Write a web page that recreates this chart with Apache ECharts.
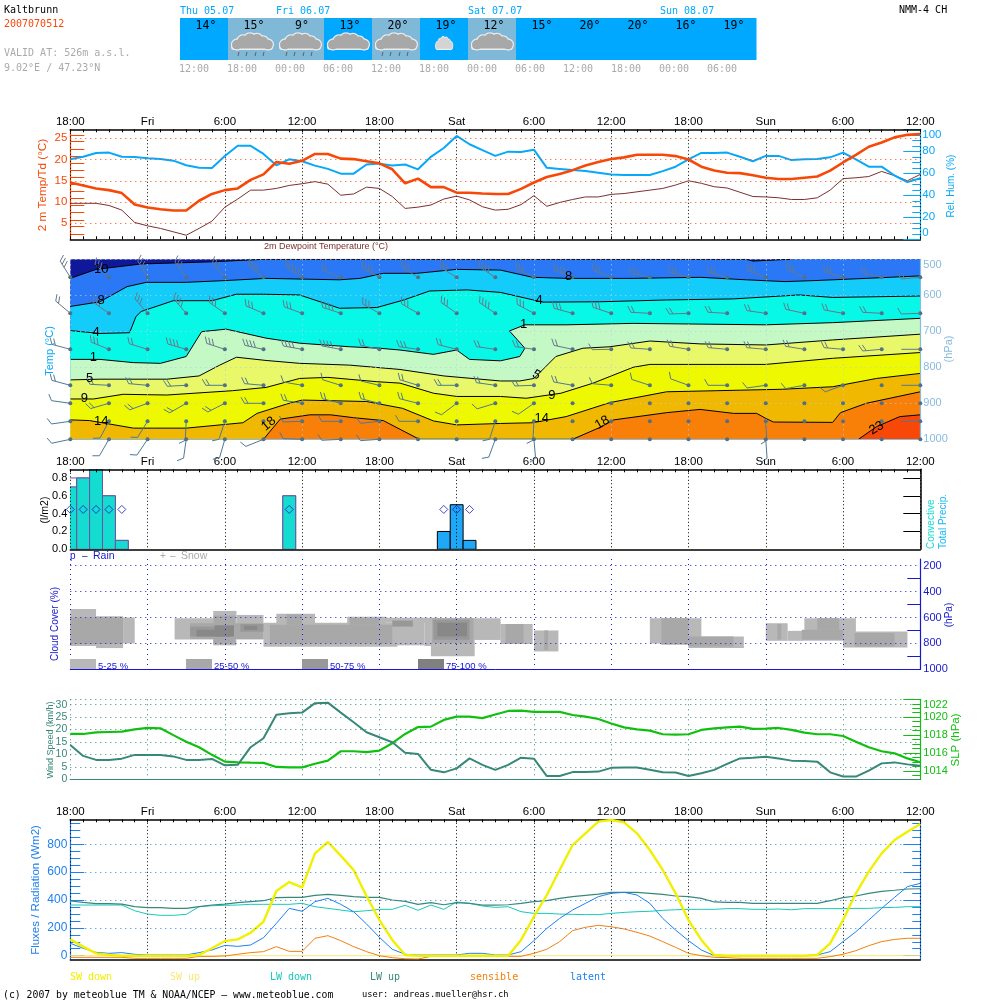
<!DOCTYPE html>
<html><head><meta charset="utf-8">
<script src="https://cdn.jsdelivr.net/npm/echarts@6/dist/echarts.min.js"></script>
<style>html,body{margin:0;padding:0;background:#fff}#c{width:1000px;height:1000px}</style></head>
<body><div id="c"></div>
<script>
const timeLabels=['18:00','Fri','6:00','12:00','18:00','Sat','6:00','12:00','18:00','Sun','6:00','12:00'];
const temp2m=[14.6,13.9,13.2,12.8,12.1,9.4,8.7,8.3,8,8,10.3,11.9,12.8,13.2,15.2,16.5,19.4,19,19.7,21.3,21.3,20.2,20.1,19.6,19.1,17.7,14.4,15.5,13.5,13.5,12.2,12.2,12,11.9,11.9,13.1,14.6,15.9,16.6,17.5,18.6,19.4,20.1,20.5,21.1,21.1,21.1,20.8,20,18.3,17.4,16.9,16.8,16.3,15.7,15.4,15.4,15.7,16,17.4,19.3,21.1,23,24,25.2,25.8,26];
const dewPoint=[9.7,9.7,9.7,9.2,8.1,5.2,4.4,3.8,3,2.2,3.8,5.5,8.8,10.7,12.8,12.8,13.2,13.9,14.3,14.8,14.2,11.6,11.9,13.5,13.2,11.3,8.5,8.8,9.3,10.7,11.4,10.5,8.9,8.1,8.3,9.4,11.5,9,9.9,10.6,11.2,11.2,11.8,12,12.4,12.8,13.2,14,15,14.4,13.6,13.3,12.3,11.3,11.2,11,10.6,10.6,11,12.8,15.5,15.7,16,17.2,16.2,15,16.5];
const relHum=[72.7,75,78.5,78.8,75,74.8,73.6,73,71.5,67.3,65,64.8,75.8,85,85,77.6,67.3,72.7,71,67,64,59.7,59.7,68,68.8,67,68,63.6,75,83,94,86.4,81,75.8,79.7,79.4,81.5,65,64,63,62,60.6,59,58.5,58.5,58.5,62,66,72.7,78.5,78.5,78.8,75,71,75.8,75.8,72,72.7,73,74.5,78.8,72.7,66,66,58,52,55.5];
const tempLabels=[5,10,15,20,25];
const tempMinor=[2.5,4.2,5.8,7.5,9.2,10.8,12.5,14.2,15.8,17.5,19.2,20.8,22.5,24.2,25.8];

const contourM10=[[0,553],[2,528],[5.5,513],[11,507],[15,500],[52.5,500],[53,505],[55.2,501],[56,500],[66,500]];
const contourM8=[[0,631],[2.3,618],[4.4,576],[5.9,564],[9,564],[12.1,559],[15.2,553],[20.9,557],[22.5,553],[24.3,539],[26.9,539],[30,528],[33.4,530],[35.9,550],[38.5,553],[43.7,553],[48.9,550],[52.5,557],[55.5,562],[57.9,559],[61.8,553],[66,546]];
const contourM4=[[0,698],[2.3,706],[4.6,704],[5.1,659],[5.5,645],[8,615],[11,615],[12.9,597],[15,597],[17.8,599],[20.9,636],[23.8,634],[25.9,613],[27.9,588],[30.8,585],[33.4,592],[36.7,619],[41.1,618],[46.3,613],[51.5,610],[56.6,599],[59.2,606],[66,602]];
const contourP1=[[0,778],[2.3,778],[4.9,787],[7,789],[9,770],[9.8,724],[10.2,701],[12.1,694],[15.2,719],[17.8,733],[21.7,743],[24,747],[25.6,752],[28.2,764],[30,752],[31,778],[33.4,782],[34.9,770],[35.3,747],[34.1,699],[35.3,682],[38.5,682],[43.7,678],[48.9,680],[54,682],[59.2,676],[66,664]];
const contourP5=[[0,835],[2.3,833],[7.5,833],[10,824],[11.6,794],[12.9,772],[15.2,781],[17.8,789],[21.7,794],[25.6,806],[29,824],[33.4,838],[34.9,838],[36,831],[37.7,770],[39.8,747],[41.9,743],[45,727],[48.9,735],[54,738],[59.2,724],[66,708]];
const contourP9=[[0,888],[1.8,888],[4.1,875],[7.5,877],[12.6,865],[15.2,856],[17.8,831],[20,828],[23.8,840],[25.6,844],[28.2,872],[30,881],[33.4,881],[35.4,886],[38.1,872],[40.6,844],[43.7,800],[45,792],[54,792],[59.2,775],[66,759]];
const contourP14=[[0,946],[1.5,948],[4.9,969],[9,969],[13.4,954],[14.5,928],[16.8,902],[18,891],[23,895],[25.8,914],[28.2,949],[30,960],[33.4,956],[35.9,954],[38.5,937],[41.9,898],[46.3,868],[50.2,865],[55.3,861],[59.2,854],[62.6,831],[66,817]];
const contourP18=[[0,1000],[15,1000],[16.3,944],[18.6,932],[20.2,932],[22,940],[24.3,948],[27.1,1000],[39,1000],[41,969],[42.2,946],[46.3,926],[48.9,917],[51.5,928],[53.3,928],[54,942],[54.6,952],[59.2,953],[59.8,926],[61.8,900],[66,868]];
const contourP23=[[0,1000],[61.2,1000],[62.6,965],[64.4,937],[66,932]];
const contourLabels=[[2.4,528,'10',0],[2.4,613,'8',0],[2,704,'4',0],[1.8,772,'1',0],[1.5,830,'5',0],[1.1,886,'9',0],[2.4,949,'14',0],[15.4,957,'18',40],[38.7,548,'8',0],[36.4,613,'4',0],[35.2,682,'1',0],[36.2,821,'5',-30],[37.4,877,'9',0],[36.6,943,'14',0],[41.3,954,'18',30],[62.6,969,'23',30]];

const windLevels=[550,650,750,850,900,950,1000];
const windDir550=[328,313,329,324,319,308,303,291,298,302,301,303,295,291,291,282,285,285,291,295,287,282,265];
const windBarbs550=[3,3,4,3,3,4,5,2,4,3,3,4,3,4,3,3,3,3,3,3,3,2,2];
const windDir650=[310,305,319,319,305,293,290,288,299,300,305,304,298,285,288,273,268,273,278,282,280,273,268];
const windBarbs650=[2,3,3,4,3,3,3,4,3,3,3,4,3,3,3,2,2,2,2,2,2,2,1];
const windDir750=[285,292,287,286,288,282,280,280,282,278,284,278,278,282,269,274,279,275,275,279,275,265,270];
const windBarbs750=[2,3,2,4,3,4,4,4,2,3,2,2,2,2,1,2,2,2,2,2,2,2,0];
const windDir850=[285,273,275,267,270,275,280,287,283,287,270,278,268,280,275,288,290,270,262,260,250,0,270];
const windBarbs850=[2,2,2,2,2,2,1,1,1,2,2,2,2,2,1,1,1,1,1,1,1,-1,0];
const windDir900=[278,254,250,240,243,270,279,284,284,284,233,253,235,0,0,0,0,0,0,0,0,0,0];
const windBarbs900=[1,2,2,2,2,2,2,2,2,2,1,1,1,-1,-1,-1,-1,-1,-1,-1,-1,-1,-1];
const windDir950=[262,208,212,183,198,0,268,270,264,270,0,198,183,0,0,0,0,0,177,0,0,0,270];
const windBarbs950=[1,1,1,1,1,-1,1,1,1,1,-1,1,1,-1,-1,-1,-1,-1,1,-1,-1,-1,0];
const windDir1000=[258,210,214,188,196,248,272,267,266,0,0,200,175,0,0,0,0,0,176,0,0,0,0];
const windBarbs1000=[1,1,1,1,1,1,1,1,1,-1,-1,1,1,-1,-1,-1,-1,-1,1,-1,-1,-1,-1];

const precipHours=[0,1,2,3,4,17,29,30,31];
const precipConvective=[0.7,0.8,0.9,0.6,0.1,0.6,0,0,0];
const precipTotal=[0.8,0.8,0.9,0.6,0.1,0.6,0.2,0.5,0.1];
const rainMarkHours=[0,1,2,3,4,17,29,30,31];
const rainMarkValue=0.447;

const cloudL1=[[0,2,535,820],[2,4.1,590,836],[4.1,5,600,800],[8.1,11.1,605,770],[11.1,12.9,549,815],[12.9,15,580,770],[15,25.4,640,825],[16,19,570,650],[21.5,24.5,595,650],[23,28.5,602,640],[25.3,27.5,610,815],[27.5,28,620,820],[28,33.4,605,772],[28,31.4,605,900],[31.4,33.4,630,772],[33.4,35.9,650,805],[36,37.9,700,862],[45,49,605,800],[48,52.3,746,836],[54,55.7,644,780],[55.7,57,703,780],[57,61,605,780],[60,65,708,831]];
const cloudL2=[[0,4.1,600,805],[9.3,15,644,765],[11.1,12.8,585,800],[15.5,25,656,800],[16.8,18,575,656],[21.7,24,605,656],[28.1,31.3,605,798],[33.8,35.2,650,800],[36.8,37.1,700,850],[45.9,48,605,810],[48,51.5,746,823],[54.9,55.2,650,770],[56.8,60,695,772],[58,59.7,605,695],[60.9,64,720,823]];
const cloudL3=[[9.3,12.7,670,746],[13.2,15,650,710],[25,26.6,623,670],[28.2,31,618,772]];
const cloudL4=[[9.8,12.4,695,746],[11.2,12.7,660,746],[13.5,14.5,665,695],[28.5,30.8,640,746]];

const windSpeed=[13.8,9.4,7.8,7.8,8.3,9.8,9.8,9.8,9.2,7.8,7.8,8.2,5.6,5.8,12.9,16.5,25.9,26.5,26.8,30.6,30.8,26.8,22.9,18.9,16.9,14.9,10.7,10.2,3.8,2.8,4.4,8.4,5.8,3.8,5.8,8.7,8.3,1.3,1.3,2.9,2.9,3.1,4.6,4.7,4.7,3.8,2.8,2.7,1.3,2.4,3.8,6.2,8.4,8.7,9.1,8.4,7.5,7.4,7.1,2.8,1.1,1.1,3.5,6.4,6.8,6,5.4];
const slp=[1018.13,1018.13,1018.3,1018.35,1018.4,1018.65,1018.8,1018.76,1018,1017.27,1016.64,1015.8,1015.04,1014.97,1014.93,1014.9,1014.45,1014.4,1014.4,1014.8,1015.15,1016.2,1016.2,1016.1,1016.27,1017.1,1018.13,1018.9,1018.95,1019.7,1020.07,1020.07,1019.9,1020.3,1020.7,1020.73,1020.6,1020.6,1020.6,1020.25,1020.07,1019.8,1019.3,1018.87,1018.65,1018.5,1018.1,1018.06,1018.1,1018.58,1018.76,1018.87,1018.95,1018.7,1018.73,1018.8,1018.58,1018.28,1018.1,1018.1,1017.9,1017.27,1016.64,1016.2,1015.97,1015.4,1014.97];
const slpLabels=[1014,1016,1018,1020,1022];
const slpMinor=[1013.5,1014.5,1015,1015.5,1016.5,1017,1017.5,1018.5,1019,1019.5,1020.5,1021,1021.5];

const swDown=[117,65,17,5,0,0,0,0,0,0,5,53,105,117,165,244,465,529,491,735,817,719,616,429,256,113,5,0,0,0,0,0,0,0,0,113,280,436,616,795,879,963,975,958,879,759,616,448,256,113,5,0,0,0,0,0,0,0,5,89,256,448,604,735,831,891,946];
const swUp=[0,0,0,0,0,0,0,0,0,0,0,0,0,0,0,0,0,0,0,0,0,0,0,0,0,0,0,0,0,0,0,0,0,0,0,0,0,0,0,0,0,0,0,0,0,0,0,0,0,0,0,0,0,0,0,0,0,0,0,0,0,0,0,0,0,0,0];
const lwDown=[364,364,364,364,364,323,299,290,290,297,352,359,362,364,369,369,369,369,376,352,340,328,316,323,333,333,362,326,364,333,386,376,357,347,352,316,304,304,299,297,295,295,304,311,316,319,326,330,333,333,333,338,338,333,333,335,330,338,338,338,338,340,340,345,347,352,352];
const lwUp=[393,383,374,374,371,352,345,345,340,340,352,364,371,381,388,395,417,419,419,434,441,434,424,419,419,400,390,369,381,366,381,376,364,364,366,376,388,395,412,424,434,443,455,455,455,448,441,429,424,412,386,383,383,376,376,376,376,376,376,395,417,429,448,462,470,479,481];
const sensible=[-12,-12,-12,-12,-12,-19,-19,-19,-19,-19,-5,-5,-2,10,22,29,65,31,31,125,144,108,65,29,0,-14,-22,-24,-5,-5,0,-5,-5,-5,-5,-5,17,46,101,180,204,218,208,192,168,141,101,60,17,0,-12,-14,-19,-19,-19,-19,-19,-19,-19,-7,10,36,72,101,117,125,125];
const latent=[89,53,24,17,22,10,5,5,5,5,22,41,74,67,77,129,232,340,319,388,412,369,316,228,132,46,10,5,5,5,5,17,17,5,5,29,108,196,268,328,376,424,448,455,436,376,268,184,108,41,0,-2,-7,0,0,0,0,0,5,29,101,172,256,340,419,496,520];
const fluxLabels=[0,200,400,600,800];
const fluxMinor=[50,100,150,250,300,350,450,500,550,650,700,750,850,900,950];

const cellTemps=[14,15,9,13,20,19,12,15,20,20,16,19];
const cellSky=[0,1,1,0,1,0,1,0,0,0,0,0];
const cellIcon=[0,2,2,1,2,3,1,0,0,0,0,0];
const cellTimes=['12:00','18:00','00:00','06:00','12:00','18:00','00:00','06:00','12:00','18:00','00:00','06:00'];
const dateLabels=[[0,'Thu 05.07'],[2,'Fri 06.07'],[6,'Sat 07.07'],[10,'Sun 08.07']];

const SANS='"Liberation Sans"', MONO='"DejaVu Sans Mono"';
const L=70.3, W=850;
const gridBox=[[129.3,110],[259.3,180],[469.3,80],[559,110.3],[699.3,80],[819.3,140]];
const grid=gridBox.map(([t,h],i)=>({left:L,top:t,width:W,height:h,show:i===1,backgroundColor:'#10189a',borderWidth:0}));
grid.push({left:180,top:18,width:576,height:42,show:false});

const dot=(c,d)=>({show:true,lineStyle:{type:d||[1,4],color:c,width:1}});
function xa(g,o){return Object.assign({type:'value',gridIndex:g,min:0,max:66,interval:6,
  axisLabel:{show:false},axisTick:{show:false},minorTick:{show:false},
  axisLine:{show:false,onZero:false},splitLine:{show:false},position:'bottom'},o);}
const lineBlack={show:true,onZero:false,lineStyle:{color:'#000',width:1.5}};
const topLabels={show:true,color:'#000',fontFamily:SANS,fontSize:11.5,margin:1.5,formatter:v=>timeLabels[Math.round(v/6)],hideOverlap:false,showMinLabel:true,showMaxLabel:true};
const hourTicks={axisTick:{show:true,inside:true,length:3,lineStyle:{color:'#000'}},minorTick:{show:true,splitNumber:6,length:3,lineStyle:{color:'#000'}}};
const VDOT=[1,2.5];
const xAxis=[
 xa(0,Object.assign({position:'top',axisLine:lineBlack,axisLabel:topLabels,splitLine:dot('#000',VDOT),z:1},hourTicks)),
 xa(0,Object.assign({position:'bottom',axisLine:lineBlack},hourTicks)),
 xa(1,{splitLine:dot('#b8d0dc'),axisLine:{show:true,onZero:false,lineStyle:{color:'#88bbdd',width:1}},z:6}),
 xa(2,Object.assign({position:'top',axisLine:lineBlack,axisLabel:topLabels,splitLine:dot('#000',VDOT),z:6},hourTicks)),
 xa(2,{position:'bottom',axisLine:lineBlack,z:6}),
 xa(3,{position:'bottom',splitLine:dot('#1818d0'),axisLine:{show:true,onZero:false,lineStyle:{color:'#1818d0',width:1}},z:6}),
 xa(4,{position:'bottom',splitLine:dot('#388878'),axisLine:{show:true,onZero:false,lineStyle:{color:'#388878',width:1.2}}}),
 xa(5,Object.assign({position:'top',axisLine:lineBlack,axisLabel:topLabels,splitLine:dot('#000',VDOT),z:1},hourTicks)),
 xa(5,{position:'bottom',axisLine:lineBlack}),
 {type:'value',gridIndex:6,min:0,max:12,show:false}
];
function ya(g,pos,o){return Object.assign({type:'value',gridIndex:g,position:pos,
  axisLine:{show:false,onZero:false},axisTick:{show:false},axisLabel:{show:false},splitLine:{show:false}},o);}
const lab=(c,o)=>Object.assign({show:true,color:c,fontFamily:SANS,fontSize:11.5,margin:3,formatter:v=>String(v)},o||{});
const tick=(c,len,vals)=>{const t={show:true,inside:true,length:len,lineStyle:{color:c,width:1}};if(vals)t.customValues=vals;return t;};
const axl=c=>({show:true,onZero:false,lineStyle:{color:c,width:1.2}});
const BLUE='#08a8f8',RED='#f84808',FLUX='#2080f0',NAVY='#1818d0',GREEN='#10c010',TEAL='#388878',PALE='#88bbdd';
const yAxis=[
 ya(0,'left',{min:1.24,max:27.1,axisLine:axl(RED),axisLabel:lab(RED,{customValues:tempLabels}),axisTick:tick(RED,14,tempMinor)}),
 ya(0,'right',{min:0,max:100,interval:20,axisLine:axl(BLUE),axisLabel:lab(BLUE,{verticalAlignMaxLabel:'top',verticalAlignMinLabel:'bottom',margin:2}),axisTick:tick(BLUE,17),minorTick:{show:true,splitNumber:4,length:8,lineStyle:{color:BLUE}}}),
 ya(1,'right',{min:500,max:1000,interval:100,inverse:true,axisLine:axl(PALE),axisLabel:lab(PALE,{verticalAlignMinLabel:'top',fontSize:11}),splitLine:dot('#b8d0dc'),z:6}),
 ya(2,'left',{min:0,max:0.897,interval:0.2,axisLabel:lab('#000',{fontSize:11,formatter:v=>v.toFixed(1),showMaxLabel:false,showMinLabel:true})}),
 ya(2,'right',{min:0,max:0.897,interval:0.2,axisLine:{show:true,onZero:false,lineStyle:{color:'#000',width:1.5}},axisTick:tick('#000',17,[0.2,0.4,0.6,0.8]),z:6}),
 ya(3,'right',{min:148,max:1000,inverse:true,axisLine:axl(NAVY),axisLabel:lab(NAVY,{fontSize:11,customValues:[200,400,600,800,1000]}),axisTick:tick(NAVY,13,[300,500,700,900]),z:6}),
 ya(4,'left',{min:0,max:32.15,interval:5,axisLabel:lab(TEAL,{fontSize:10.5,showMaxLabel:false}),splitLine:dot(TEAL)}),
 ya(4,'right',{min:1013.07,max:1022,axisLine:axl(GREEN),axisLabel:lab(GREEN,{fontSize:11,customValues:slpLabels,verticalAlignMaxLabel:'top'}),axisTick:tick(GREEN,17,slpLabels)}),
 ya(4,'right',{min:1013.07,max:1022,axisTick:tick(GREEN,8,slpMinor)}),
 ya(5,'left',{min:-26,max:980,axisLine:axl(FLUX),axisLabel:lab(FLUX,{fontSize:12,customValues:fluxLabels,margin:3}),axisTick:tick(FLUX,14,fluxLabels)}),
 ya(5,'left',{min:-26,max:980,axisTick:tick(FLUX,10,fluxMinor)}),
 ya(5,'right',{min:-26,max:980,axisLine:axl(FLUX),axisTick:tick(FLUX,17,fluxLabels)}),
 ya(5,'right',{min:-26,max:980,axisTick:tick(FLUX,8,fluxMinor)}),
 {type:'value',gridIndex:6,min:0,max:1,show:false}
];

const hourly=a=>a.map((v,i)=>[i,v]);
const ln=(name,d,xi,yi,color,w,extra)=>Object.assign({type:'line',name,data:hourly(d),xAxisIndex:xi,yAxisIndex:yi,symbol:'none',showSymbol:false,lineStyle:{color,width:w},itemStyle:{color},silent:true},extra||{});
const hLines=(vals,c)=>({silent:true,symbol:'none',label:{show:false},animation:false,lineStyle:{type:[1,4],color:c,width:1},data:vals.map(v=>({yAxis:v}))});

const series=[];
// panel 1
series.push(ln('Temp',temp2m,0,0,RED,2.6,{z:5,markLine:hLines(tempLabels,RED)}));
series.push(ln('Dew',dewPoint,0,0,'#7a3030',1,{z:4}));
series.push(ln('RH',relHum,0,1,BLUE,2,{z:4}));

// panel 2 contours
const bands=[[contourM10,'#2a78f5'],[contourM8,'#14ccfa'],[contourM4,'#08f8e8'],[contourP1,'#c4f8c4'],[contourP5,'#e8f868'],[contourP9,'#eef800'],[contourP14,'#f0b800'],[contourP18,'#f88008'],[contourP23,'#f84808']];
bands.forEach(([pts,col],i)=>{
  series.push({type:'line',name:'band'+i,data:pts,xAxisIndex:2,yAxisIndex:2,symbol:'none',silent:true,lineStyle:{width:0,opacity:0},
    areaStyle:{color:col,opacity:1,origin:'end'},z:2+i*0.01});
});
const edge=p=>p===500||p===1000;
bands.forEach(([pts],i)=>{
  const d=pts.map((q,j)=>{const a=pts[j-1],b=pts[j+1];
    const keep=!edge(q[1])||(a&&!edge(a[1]))||(b&&!edge(b[1]));
    return keep?q:[q[0],'-'];});
  series.push({type:'line',name:'contour'+i,data:d,xAxisIndex:2,yAxisIndex:2,symbol:'none',silent:true,connectNulls:false,lineStyle:{color:'#000',width:1},z:3});
});
series.push({type:'custom',name:'contour labels',xAxisIndex:2,yAxisIndex:2,z:9,silent:true,data:contourLabels.map(r=>r.slice()),
  encode:{x:0,y:1},
  renderItem(p,api){const i=p.dataIndex,r=contourLabels[i],c=api.coord([r[0],r[1]]);
    return {type:'text',x:c[0],y:c[1],rotation:(r[3]||0)*Math.PI/180,style:{text:r[2],fill:'#000',font:'13px '+SANS,align:'center',verticalAlign:'middle'}};}});

const windRows=[[windDir550,windBarbs550],[windDir650,windBarbs650],[windDir750,windBarbs750],[windDir850,windBarbs850],[windDir900,windBarbs900],[windDir950,windBarbs950],[windDir1000,windBarbs1000]];
const barbData=[];
windRows.forEach((r,li)=>r[0].forEach((d,k)=>barbData.push([k*3,windLevels[li],d,r[1][k]])));
series.push({type:'custom',name:'wind barbs',xAxisIndex:2,yAxisIndex:2,z:8,silent:true,clip:false,data:barbData,encode:{x:0,y:1},
  renderItem(p,api){
    const h=api.value(0),lev=api.value(1),dir=api.value(2),n=api.value(3);
    const c=api.coord([h,lev]);
    const col=lev<800?'#66788c':'#4f7896';
    const kids=[{type:'circle',shape:{cx:c[0],cy:c[1],r:2},style:{fill:'#4f7088'}}];
    if(n>=0){
      const a=dir*Math.PI/180,ux=Math.sin(a),uy=-Math.cos(a),LEN=19;
      const ex=c[0]+ux*LEN,ey=c[1]+uy*LEN;
      const st={stroke:col,lineWidth:1,fill:null};
      kids.push({type:'line',shape:{x1:c[0],y1:c[1],x2:ex,y2:ey},style:st});
      const cs=Math.cos(Math.PI/3),sn=Math.sin(Math.PI/3),fx=ux*cs-uy*sn,fy=ux*sn+uy*cs;
      for(let j=0;j<n;j++){const bx=ex-ux*j*3.6,by=ey-uy*j*3.6;
        kids.push({type:'line',shape:{x1:bx,y1:by,x2:bx+fx*7,y2:by+fy*7},style:st});}
    }
    return {type:'group',children:kids};
  }});

// panel 3: hourly precipitation boxes, clipped by the grid
function precipBox(values,fillFn,strokeFn,z,name){
  series.push({type:'custom',name,xAxisIndex:3,yAxisIndex:3,z,silent:true,clip:true,
    data:precipHours.map((h,i)=>[h,values[i],i]),encode:{x:0,y:1},
    renderItem(p,api){
      const h=api.value(0),v=api.value(1),i=api.value(2);
      if(!v)return;
      const a=api.coord([h-0.5,v]),b=api.coord([h+0.5,0]);
      return {type:'rect',shape:{x:a[0],y:a[1],width:b[0]-a[0],height:b[1]-a[1]},style:{fill:fillFn(i),stroke:strokeFn(i),lineWidth:1}};
    }});
}
precipBox(precipTotal,i=>precipConvective[i]>0?'#ffffff':'#20a8f8',i=>precipConvective[i]>0?'#7050a0':'#000',3,'Total');
precipBox(precipConvective,i=>'#14dcd0',i=>'#7050a0',4,'Convective');
series.push({type:'scatter',name:'Rain',xAxisIndex:3,yAxisIndex:3,symbol:'diamond',symbolSize:[8,8],silent:true,z:7,clip:false,
  data:rainMarkHours.map(h=>[h,rainMarkValue]),itemStyle:{color:'rgba(0,0,0,0)',borderColor:'#1818c8',borderWidth:1}});

// panel 4
const cloudCols=['#b8b8b8','#a8a8a8','#989898','#888888'];
const cloudData=[];
[cloudL1,cloudL2,cloudL3,cloudL4].forEach((a,l)=>a.forEach(r=>cloudData.push([r[0],r[2],r[1],r[3],l])));
series.push({type:'custom',name:'clouds',xAxisIndex:5,yAxisIndex:5,z:2,silent:true,data:cloudData,encode:{x:[0,2],y:[1,3]},
  renderItem(p,api){const a=api.coord([api.value(0),api.value(1)]),b=api.coord([api.value(2),api.value(3)]);
    return {type:'rect',shape:{x:a[0],y:a[1],width:b[0]-a[0],height:b[1]-a[1]},style:{fill:cloudCols[api.value(4)]}};}});
series.push({type:'line',name:'cloud grid',data:[],xAxisIndex:5,yAxisIndex:5,symbol:'none',silent:true,z:6,
  markLine:hLines([200,400,600,800],NAVY)});

// panel 5
series.push(ln('SLP',slp,6,7,GREEN,2.2,{z:4}));
series.push(ln('Wind',windSpeed,6,6,TEAL,2,{z:5}));

// panel 6
series.push(ln('SW up',swUp,7,9,'#f8e878',1,{z:3,markLine:hLines([200,400,600,800],FLUX)}));
series.push(ln('LW down',lwDown,7,9,'#18c8b8',1,{z:3}));
series.push(ln('LW up',lwUp,7,9,TEAL,1.2,{z:3}));
series.push(ln('sensible',sensible,7,9,'#f08010',1,{z:3}));
series.push(ln('latent',latent,7,9,FLUX,1,{z:3}));
series.push(ln('SW down',swDown,7,9,'#f0f000',2.4,{z:4}));

// header strip
function cloudShape(cx,base,sx,sy,fill,edgeCol){
  const parts=[[-15,-5,4.8],[-9,-8.5,5.5],[-2,-10,6],[5,-10,5.5],[11,-8,5],[16,-5,4.8]];
  const kids=[];
  const ell=(q,e,f)=>({type:'ellipse',shape:{cx:cx+q[0]*sx,cy:base+q[1]*sy,rx:(q[2]+e)*sx,ry:(q[2]+e)*sy},style:{fill:f}});
  parts.forEach(q=>kids.push(ell(q,1.2,edgeCol)));
  kids.push({type:'rect',shape:{x:cx-21*sx,y:base-8*sy,width:42*sx,height:8.5*sy,r:3},style:{fill:edgeCol}});
  parts.forEach(q=>kids.push(ell(q,0,fill)));
  kids.push({type:'rect',shape:{x:cx-19.5*sx,y:base-8*sy,width:39*sx,height:7*sy,r:2},style:{fill}});
  return kids;
}
series.push({type:'custom',name:'forecast',xAxisIndex:9,yAxisIndex:13,z:2,silent:true,clip:false,data:cellTemps.map((t,i)=>[i,t,cellSky[i],cellIcon[i]]),encode:{x:0},
  renderItem(p,api){
    const i=api.value(0),a=api.coord([i,1]),b=api.coord([i+1,0]);
    const kids=[{type:'rect',shape:{x:a[0],y:a[1],width:b[0]-a[0]+0.5,height:b[1]-a[1]},style:{fill:api.value(2)?'#80b8d8':'#00a8ff'}}];
    const cx=(a[0]+b[0])/2,base=49.5,ic=api.value(3);
    if(ic===1||ic===2)kids.push(...cloudShape(cx,base,1,1,'#a8a8a8','#ececec'));
    if(ic===3)kids.push(...cloudShape(cx,base,0.42,0.78,'#d4d4d4','#f0f0f0'));
    if(ic===2){[-14,-6,3,11].forEach(dx=>{kids.push({type:'line',shape:{x1:cx+dx+1,y1:52,x2:cx+dx,y2:56},style:{stroke:'#606060',lineWidth:1}});});}
    kids.push({type:'text',style:{x:cx+2,y:26,text:api.value(1)+'°',fill:'#000',font:'11.5px '+MONO,align:'center',verticalAlign:'middle'}});
    return {type:'group',children:kids};
  }});

// text
const gfx=[];
function txt(x,y,text,color,size,fam,align,rot){
  gfx.push({type:'text',x,y,rotation:rot?Math.PI/2:0,z:20,silent:true,style:{x:0,y:0,text,fill:color,font:size+'px '+(fam||MONO),align:align||'left',verticalAlign:'middle'}});
}
txt(4,10,'Kaltbrunn','#000',10);
txt(4,24,'2007070512',RED,10);
txt(4,53,'VALID AT: 526m a.s.l.','#aaa',10);
txt(4,68,'9.02°E / 47.23°N','#aaa',10);
txt(899,10,'NMM-4 CH','#000',10);
dateLabels.forEach(d=>txt(180+d[0]*48,11,d[1],'#00a8ff',10));
cellTimes.forEach((t,i)=>txt(179+i*48,69,t,'#aaa',10));

txt(43,185,'2 m Temp/Td (°C)',RED,11.7,SANS,'center',1);
txt(951,186,'Rel. Hum. (%)',BLUE,10,SANS,'center',1);
txt(326,247,'2m Dewpoint Temperature (°C)','#7a3030',9,SANS,'center');
txt(50,351,'Temp (°C)',BLUE,11,SANS,'center',1);
txt(949,349,'(hPa)',PALE,11,SANS,'center',1);
txt(45,510,'(l/m2)','#000',10.5,SANS,'center',1);
txt(931,549,'Convective','#14dcd0',10,SANS,'left',1);
txt(943,549,'Total Precip.','#18b8f8',10,SANS,'left',1);
txt(70,556,'p','#1818c8',10,SANS);
txt(82,556,'–','#1818c8',10,SANS);
txt(93,556,'Rain','#1818c8',10.5,SANS);
txt(160,556,'+','#aaa',10,SANS);
txt(170,556,'–','#aaa',10,SANS);
txt(181,556,'Snow','#aaa',10.5,SANS);
txt(55,624,'Cloud Cover (%)',NAVY,10,SANS,'center',1);
txt(949,615,'(hPa)',NAVY,10,SANS,'center',1);
[[70,'5-25 %'],[186,'25-50 %'],[302,'50-75 %'],[418,'75-100 %']].forEach((r,i)=>{
  gfx.push({type:'rect',z:20,silent:true,shape:{x:r[0],y:659,width:26,height:10},style:{fill:['#b8b8b8','#a8a8a8','#989898','#808080'][i]}});
  txt(r[0]+28,666,r[1],NAVY,9.5,SANS);
});
txt(51,740,'Wind Speed (km/h)',TEAL,9,SANS,'center',1);
txt(956,740,'SLP (hPa)',GREEN,11.5,SANS,'center',1);
txt(36,890,'Fluxes / Radiation (Wm2)',FLUX,11.5,SANS,'center',1);
[[70,'SW down','#f0f000'],[170,'SW up','#f8e878'],[270,'LW down','#18c8b8'],[370,'LW up',TEAL],[470,'sensible','#f08010'],[570,'latent',FLUX]].forEach(r=>txt(r[0],977,r[1],r[2],10));
txt(3,995,'(c) 2007 by meteoblue TM & NOAA/NCEP — www.meteoblue.com','#000',9.8);
txt(362,995,'user: andreas.mueller@hsr.ch','#000',8.7);

const chart=echarts.init(document.getElementById('c'),null,{renderer:'canvas'});
chart.setOption({animation:false,backgroundColor:'#fff',grid,xAxis,yAxis,series,graphic:gfx,tooltip:{show:false},legend:{show:false}});
</script></body></html>
